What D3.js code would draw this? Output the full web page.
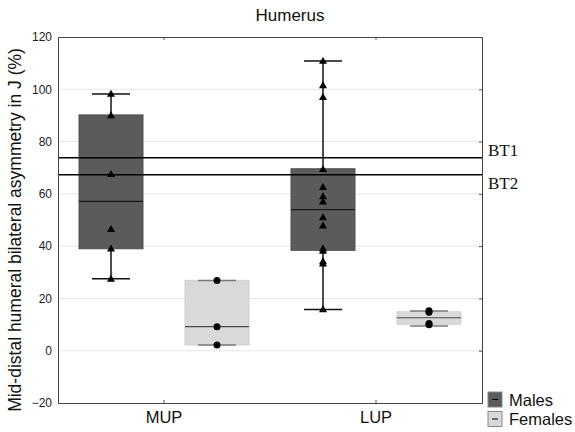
<!DOCTYPE html>
<html>
<head>
<meta charset="utf-8">
<script src="https://cdn.jsdelivr.net/npm/d3@7"></script>
<style>
  body { margin: 0; background: #fff; }
  svg { font-family: "Liberation Sans", Arial, sans-serif; }
</style>
</head>
<body>
<svg width="575" height="432"></svg>
<script>
// categories and series
var groups = ["MUP", "LUP"];
var sexes = ["Males", "Females"];

// box stats per group: [min, q1, median, q3, max]
var malesStats = [[27.5, 39, 57.1, 90.2, 98.2], [15.8, 38.4, 54, 69.6, 110.8]];
var femalesStats = [[2.2, 2.2, 9.2, 26.9, 26.9], [9.5, 10.1, 12.6, 14.9, 15.2]];

// individual values per group
var malesPoints = [
	[98.2, 90, 67.5, 46.5, 39, 27.5],
	[110.8, 101.5, 97, 69.4, 62.6, 59, 57, 51, 47.8, 39, 38.2, 34.2, 33.3, 15.8]
];
var femalesPoints = [[26.9, 9.2, 2.2], [15.3, 14.7, 10.4, 9.9]];

// threshold lines
var thresholds = [73.8, 67.3];
var thresholdLabels = ["BT1", "BT2"];

var yTicks = [-20, 0, 20, 40, 60, 80, 100, 120];

var svg = d3.select("svg");
var plotLeft = 58, plotRight = 482, plotTop = 37, plotBottom = 403;

var x = d3.scaleBand().domain(groups).range([plotLeft, plotRight]);
var sub = d3.scaleBand().domain(sexes).range([0, x.bandwidth()]);
var y = d3.scaleLinear().domain([-20, 120]).range([plotBottom, plotTop]);

var boxW = 64, capW = 38;
var fills = { Males: "#5b5b5b", Females: "#d9d9d9" };
var medianColor = { Males: "#1a1a1a", Females: "#4a4a4a" };
var capColor = { Males: "#111", Females: "#7a7a7a" };

// gridlines
svg.append("g")
	.selectAll("line")
	.data(yTicks.filter(function(d) { return d > -20 && d < 120; }))
	.enter().append("line")
	.attr("x1", plotLeft).attr("x2", plotRight)
	.attr("y1", function(d) { return y(d); })
	.attr("y2", function(d) { return y(d); })
	.attr("stroke", "#e6e6e6")
	.attr("stroke-width", 1);

// build one list of boxes
var boxes = [];
groups.forEach(function(g, i) {
	boxes.push({ group: g, sex: "Males", s: malesStats[i], pts: malesPoints[i] });
	boxes.push({ group: g, sex: "Females", s: femalesStats[i], pts: femalesPoints[i] });
});
boxes.forEach(function(b) {
	b.cx = x(b.group) + sub(b.sex) + sub.bandwidth() / 2;
});

var bx = svg.append("g").selectAll("g")
	.data(boxes)
	.enter().append("g");

// whisker stems
bx.append("line")
	.attr("x1", function(d) { return d.cx; })
	.attr("x2", function(d) { return d.cx; })
	.attr("y1", function(d) { return y(d.s[0]); })
	.attr("y2", function(d) { return y(d.s[4]); })
	.attr("stroke", function(d) { return capColor[d.sex]; })
	.attr("stroke-width", 1.5);

// boxes
bx.append("rect")
	.attr("x", function(d) { return d.cx - boxW / 2; })
	.attr("width", boxW)
	.attr("y", function(d) { return y(d.s[3]); })
	.attr("height", function(d) { return Math.max(1, y(d.s[1]) - y(d.s[3])); })
	.attr("fill", function(d) { return fills[d.sex]; })
	.attr("stroke", function(d) { return d.sex == "Males" ? "#505050" : "#cfcfcf"; })
	.attr("stroke-width", 1);

// medians
bx.append("line")
	.attr("x1", function(d) { return d.cx - boxW / 2; })
	.attr("x2", function(d) { return d.cx + boxW / 2; })
	.attr("y1", function(d) { return y(d.s[2]); })
	.attr("y2", function(d) { return y(d.s[2]); })
	.attr("stroke", function(d) { return medianColor[d.sex]; })
	.attr("stroke-width", 1.2);

// whisker caps
[0, 4].forEach(function(k) {
	bx.append("line")
		.attr("x1", function(d) { return d.cx - capW / 2; })
		.attr("x2", function(d) { return d.cx + capW / 2; })
		.attr("y1", function(d) { return y(d.s[k]); })
		.attr("y2", function(d) { return y(d.s[k]); })
		.attr("stroke", function(d) { return capColor[d.sex]; })
		.attr("stroke-width", 1.5);
});

// points
var tri = d3.symbol().type(d3.symbolTriangle).size(28);
bx.each(function(b) {
	var g = d3.select(this);
	if (b.sex == "Males") {
		g.selectAll("path").data(b.pts).enter().append("path")
			.attr("d", tri)
			.attr("transform", function(v) { return "translate(" + b.cx + "," + (y(v) + 0.5) + ")"; })
			.attr("fill", "#000");
	} else {
		g.selectAll("circle").data(b.pts).enter().append("circle")
			.attr("cx", b.cx)
			.attr("cy", function(v) { return y(v); })
			.attr("r", 3.5)
			.attr("fill", "#000");
	}
});

// threshold lines
svg.append("g").selectAll("line")
	.data(thresholds)
	.enter().append("line")
	.attr("x1", plotLeft).attr("x2", plotRight)
	.attr("y1", function(d) { return y(d); })
	.attr("y2", function(d) { return y(d); })
	.attr("stroke", "#000")
	.attr("stroke-width", 1.6);

svg.append("g").selectAll("text")
	.data(thresholds)
	.enter().append("text")
	.attr("x", 488)
	.attr("y", function(d, i) { return i == 0 ? y(d) - 2 : y(d) + 14; })
	.attr("font-family", "'Liberation Serif', 'Times New Roman', serif")
	.attr("font-size", 17)
	.attr("fill", "#111")
	.text(function(d, i) { return thresholdLabels[i]; });

// axes
var yLeft = svg.append("g")
	.attr("transform", "translate(" + plotLeft + ",0)")
	.call(d3.axisLeft(y).tickValues(yTicks).tickSize(0).tickPadding(6));
yLeft.selectAll("text").attr("font-size", 12).attr("fill", "#222");

svg.append("g")
	.attr("transform", "translate(" + plotRight + ",0)")
	.call(d3.axisRight(y).tickValues(yTicks).tickSize(-3).tickFormat(""));

svg.append("g")
	.attr("transform", "translate(0," + plotTop + ")")
	.call(d3.axisTop(x).tickSize(-3).tickFormat(""));

var xBottom = svg.append("g")
	.attr("transform", "translate(0," + plotBottom + ")")
	.call(d3.axisBottom(x).tickSize(-3).tickPadding(8));
xBottom.selectAll("text").attr("font-size", 16.5).attr("fill", "#111");

svg.selectAll(".domain").attr("stroke", "#444").attr("stroke-width", 1);
svg.selectAll(".tick line").attr("stroke", "#555");

// title
svg.append("text")
	.attr("x", 290).attr("y", 21)
	.attr("text-anchor", "middle")
	.attr("font-size", 17)
	.attr("fill", "#111")
	.text("Humerus");

// y label
svg.append("text")
	.attr("transform", "translate(21,230) rotate(-90)")
	.attr("text-anchor", "middle")
	.attr("font-size", 17.5)
	.attr("fill", "#111")
	.text("Mid-distal humeral bilateral asymmetry in J (%)");

// legend
var legend = svg.append("g").selectAll("g")
	.data(sexes)
	.enter().append("g")
	.attr("transform", function(d, i) { return "translate(488," + (392 + i * 19.5) + ")"; });

legend.append("rect")
	.attr("width", 14).attr("height", 15)
	.attr("fill", function(d) { return fills[d]; })
	.attr("stroke", "#888");

legend.append("line")
	.attr("x1", 4).attr("x2", 10)
	.attr("y1", 7.5).attr("y2", 7.5)
	.attr("stroke", "#000");

legend.append("text")
	.attr("x", 21).attr("y", 13.5)
	.attr("font-family", "'Liberation Sans', Arial, sans-serif")
	.attr("font-size", 16.5)
	.attr("fill", "#111")
	.text(function(d) { return d; });
</script>
</body>
</html>
